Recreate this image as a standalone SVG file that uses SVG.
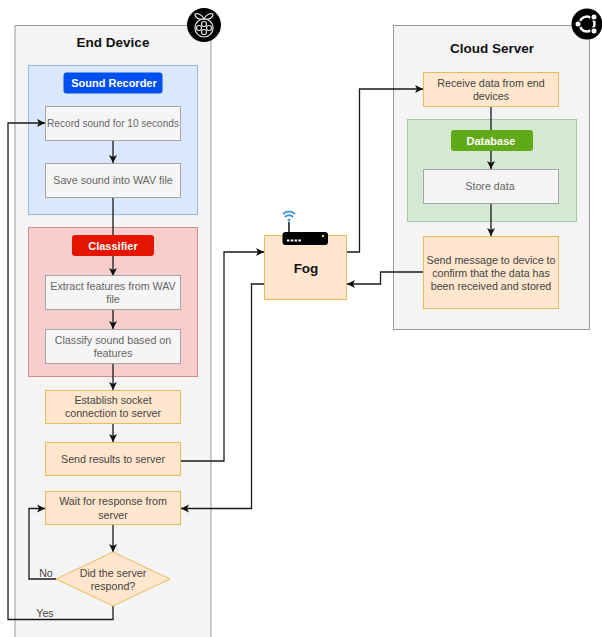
<svg xmlns="http://www.w3.org/2000/svg" width="602" height="637" viewBox="0 0 602 637">
<defs>
<marker id="a" markerWidth="10" markerHeight="10" refX="8" refY="4.500" orient="auto" markerUnits="userSpaceOnUse"><path d="M0 0.500L8 4.500L0 8.500L2 4.500Z" fill="#111"/></marker>
</defs>
<style>
text{font-family:"Liberation Sans",Arial,sans-serif;font-size:10.700px;fill:#444;text-anchor:middle}
.c{fill:none;stroke:#1a1a1a;stroke-width:1.300}
.o{fill:#ffe6cc;stroke:#e8bb5c;stroke-width:1}
.g{fill:#f5f5f5;stroke:#a6a6a6;stroke-width:1}
.gt{fill:#666}
.p{fill:#f4f4f4;stroke:#9a9a9a;stroke-width:1}
.t{font-size:13.500px;font-weight:bold;fill:#111}
.b{font-size:11px;font-weight:bold;fill:#fff}
</style>
<rect width="602" height="637" fill="#fff"/>
<g id="end-device">
<path d="M15 637V25.500H211V637" class="p" stroke-width="1.500"/>
<text class="t" x="113" y="47">End Device</text>
</g>
<g id="cloud-server"><rect class="p" x="393.500" y="25.500" width="196" height="304"/><text class="t" x="492" y="53">Cloud Server</text></g>
<g id="sound-panel"><rect x="28.500" y="65.500" width="169" height="149" fill="#dae8fc" stroke="#9db8dc"/></g>
<g id="classifier-panel"><rect x="28.500" y="227.500" width="169" height="149" fill="#f8cecc" stroke="#cf8f8c"/></g>
<g id="database-panel"><rect x="407.500" y="119.500" width="169" height="102" fill="#d5e8d4" stroke="#a9c9a6"/></g>
<g id="connectors">
<path class="c" marker-end="url(#a)" d="M113 140V163"/>
<path class="c" marker-end="url(#a)" d="M113 197V276"/>
<path class="c" marker-end="url(#a)" d="M113 310V329"/>
<path class="c" marker-end="url(#a)" d="M113 363V390"/>
<path class="c" marker-end="url(#a)" d="M113 423V442"/>
<path class="c" marker-end="url(#a)" d="M113 525V552"/>
<path class="c" marker-end="url(#a)" d="M56 579H29V508.500H45"/>
<path class="c" marker-end="url(#a)" d="M113 606V619.500H8V123H45"/>
<path class="c" marker-end="url(#a)" d="M180 461H224V252H264"/>
<path class="c" marker-end="url(#a)" d="M264 284H251.500V508.500H181"/>
<path class="c" marker-end="url(#a)" d="M346 252H359.500V89H423"/>
<path class="c" marker-end="url(#a)" d="M423 272H380.500V284H347"/>
<path class="c" marker-end="url(#a)" d="M491 106V169"/>
<path class="c" marker-end="url(#a)" d="M491 203V236"/>
</g>
<g id="sound-recorder"><rect x="63.500" y="72.500" width="99" height="21" rx="3" fill="#0050ef"/><text class="b" x="114" y="87">Sound Recorder</text></g>
<g id="record"><rect class="g" x="45.500" y="106.500" width="135" height="34"/><text class="gt" x="113" y="127" style="font-size:10.100px">Record sound for 10 seconds</text></g>
<g id="save"><rect class="g" x="45.500" y="163.500" width="135" height="34"/><text class="gt" x="113" y="184">Save sound into WAV file</text></g>
<g id="classifier"><rect x="72" y="235" width="82" height="21" rx="3" fill="#e51400"/><text class="b" x="113" y="250">Classifier</text></g>
<g id="extract"><rect class="g" x="45.500" y="275.500" width="135" height="34"/><text class="gt" x="113" y="290">Extract features from WAV</text><text class="gt" x="113" y="303">file</text></g>
<g id="classify"><rect class="g" x="45.500" y="329.500" width="135" height="34"/><text class="gt" x="113" y="344">Classify sound based on</text><text class="gt" x="113" y="357">features</text></g>
<g id="socket"><rect class="o" x="45.500" y="390.500" width="135" height="33"/><text x="113" y="404">Establish socket</text><text x="113" y="417">connection to server</text></g>
<g id="send-results"><rect class="o" x="45.500" y="442.500" width="135" height="33"/><text x="113" y="463">Send results to server</text></g>
<g id="wait"><rect class="o" x="45.500" y="491.500" width="135" height="33"/><text x="113" y="505">Wait for response from</text><text x="113" y="519">server</text></g>
<g id="decision"><path class="o" d="M113 552L170 579L113 606L56 579Z"/><text x="113" y="577">Did the server</text><text x="113" y="590">respond?</text></g>
<g id="fog"><rect class="o" x="264.500" y="235.500" width="82" height="64"/><text class="t" x="306" y="273">Fog</text>
<rect x="282.500" y="232" width="45.500" height="13" rx="3" fill="#000"/><path d="M287 240.500H301" stroke="#fff" stroke-width="2" stroke-dasharray="2.500 1.300" fill="none"/><circle cx="323" cy="236" r="1.200" fill="#f2d38a"/><path d="M289 232V222" stroke="#111" stroke-width="1.500"/>
<path d="M283 214a8.500 8.500 0 0 1 12 0M285 217a5.500 5.500 0 0 1 8 0" fill="none" stroke="#4a9ad4" stroke-width="2"/><circle cx="289" cy="220" r="1.500" fill="#4a9ad4"/></g>
<g id="receive"><rect class="o" x="423.500" y="72.500" width="135" height="34"/><text x="491" y="87">Receive data from end</text><text x="491" y="100">devices</text></g>
<g id="database"><rect x="451" y="130" width="82" height="21" rx="3" fill="#60a917"/><text class="b" x="491" y="145">Database</text></g>
<g id="store"><rect class="g" x="423.500" y="169.500" width="135" height="34"/><text class="gt" x="490" y="190">Store data</text></g>
<g id="send-message"><rect class="o" x="423.500" y="236.500" width="135" height="72"/><text x="491" y="264">Send message to device to</text><text x="491" y="277">confirm that the data has</text><text x="491" y="290">been received and stored</text></g>
<g id="raspberry"><circle cx="204" cy="25" r="17" fill="#000"/><g fill="none" stroke="#ddd" stroke-width="1.200"><path d="M204 19c-4 0-9 3-9 9 0 5 4 9 9 9s9-4 9-9c0-6-5-9-9-9Z"/><circle cx="204" cy="24" r="2.500"/><circle cx="199" cy="28" r="2.500"/><circle cx="209" cy="28" r="2.500"/><circle cx="204" cy="32" r="2.500"/><path d="M204 19c-2-5-7-6-9-5 0 4 4 6 9 5c5 1 9-1 9-5-2-1-7 0-9 5"/></g></g>
<g id="ubuntu"><circle cx="587" cy="24" r="15.500" fill="#000"/><circle cx="587" cy="24" r="7.500" fill="none" stroke="#fff" stroke-width="2.500"/><circle cx="594" cy="17" r="3.800" fill="#000"/><circle cx="594" cy="31" r="3.800" fill="#000"/><circle cx="578" cy="24" r="3.800" fill="#000"/><circle cx="594" cy="17" r="2.500" fill="#fff"/><circle cx="594" cy="31" r="2.500" fill="#fff"/><circle cx="578" cy="24" r="2.500" fill="#fff"/></g>
<g id="labels"><text x="46" y="577">No</text><text x="45" y="617">Yes</text></g>
</svg>
